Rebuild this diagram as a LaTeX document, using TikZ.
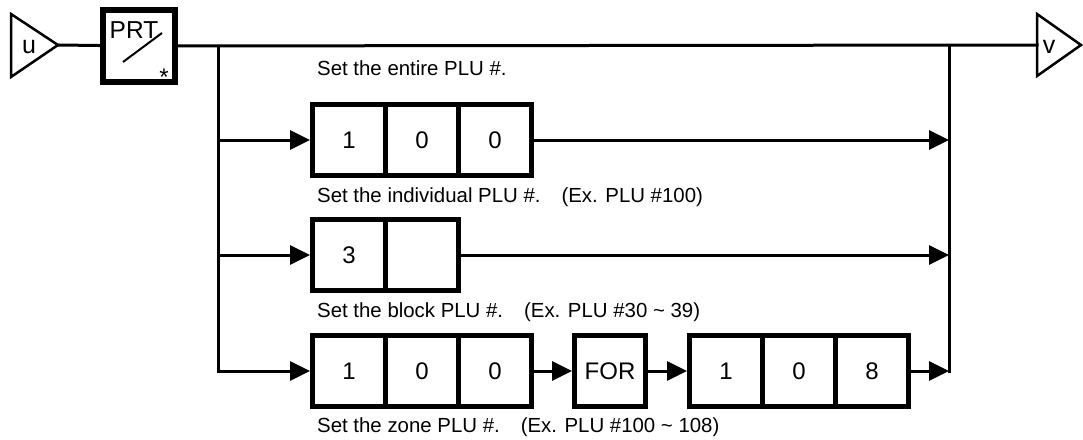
\documentclass[tikz,border=0pt]{standalone}
\usepackage{fontspec}
\setmainfont{Liberation Sans}
\usetikzlibrary{arrows.meta}

\tikzset{
  keycell/.style={draw, line width=5pt, minimum width=73pt, minimum height=71pt, inner sep=0pt, font=\fontsize{24}{28}\selectfont},
  wire/.style={line width=3pt, line cap=rect},
  arr/.style={line width=3pt, -{Triangle[length=20pt,width=19pt]}},
  note/.style={anchor=base west, inner sep=0pt, font=\fontsize{20.4}{24}\selectfont},
  tri/.style={line width=2.5pt, line join=miter},
  letter/.style={inner sep=0pt, font=\fontsize{25}{28}\selectfont}
}

\begin{document}
\begin{tikzpicture}[x=1pt,y=-1pt]
\useasboundingbox (0,0) rectangle (1083,439);

\draw[tri] (11,14)--(11,77)--(58,45)--cycle; \node[letter] (u) at (29,47) {u}; \coordinate (ut) at (58,45);
\draw[tri] (1037,14)--(1037,76)--(1081,45)--cycle; \node[letter] (v) at (1049,47) {v}; \coordinate (vt) at (1037,45);

\node[draw, line width=6pt, minimum width=72pt, minimum height=72pt] (prt) at (139,46) {};
\node[inner sep=0pt, font=\fontsize{24.5}{28}\selectfont] (prtlbl) at (134,30) {PRT};
\draw[line width=2pt] (123,62)--(162,33); \node[anchor=base, inner sep=0pt, font=\fontsize{24}{28}\selectfont] (star) at (164,85) {*};

\coordinate (j1) at (218,45); \coordinate (j2) at (949,45);
\coordinate (b1) at (218,140); \coordinate (b2) at (218,255);
\coordinate (m1) at (949,140); \coordinate (m2) at (949,255); \coordinate (m3) at (949,371);

\draw[wire] (ut)--(prt); \draw[wire] (prt)--(vt); \draw[wire] (j2)--(m3);

\node[note] (t0) at (317,75) {Set the entire PLU \#.};

%first
\node[keycell] (c11) at (349,140) {1}; \node[keycell] (c12) at (422,140) {0}; \node[keycell] (c13) at (495,140) {0};
\draw[arr] (b1)--(c11); \draw[arr] (c13)--(m1);
\node[note] (t1) at (317,202) {Set the individual PLU \#.\hspace{21pt}(Ex. PLU \#100)};

%second
\node[keycell] (c21) at (349,255) {3}; \node[keycell] (c22) at (422,255) {};
\draw[arr] (b2)--(c21); \draw[arr] (c22)--(m2);
\node[note] (t2) at (317,317) {Set the block PLU \#.\hspace{21pt}(Ex. PLU \#30 \textasciitilde{} 39)};

%third
\node[keycell] (c31) at (349,371) {1}; \node[keycell] (c32) at (422,371) {0}; \node[keycell] (c33) at (495,371) {0};
\node[keycell, minimum width=71pt] (for) at (610,371) {FOR};
\node[keycell] (c34) at (726,371) {1}; \node[keycell] (c35) at (799,371) {0}; \node[keycell] (c36) at (872,371) {8};
\draw[arr] (j1) |- (c31); \draw[arr] (c33)--(for); \draw[arr] (for)--(c34); \draw[arr] (c36)--(m3);
\node[note] (t3) at (317,432) {Set the zone PLU \#.\hspace{21pt}(Ex. PLU \#100 \textasciitilde{} 108)};

\end{tikzpicture}
\end{document}
